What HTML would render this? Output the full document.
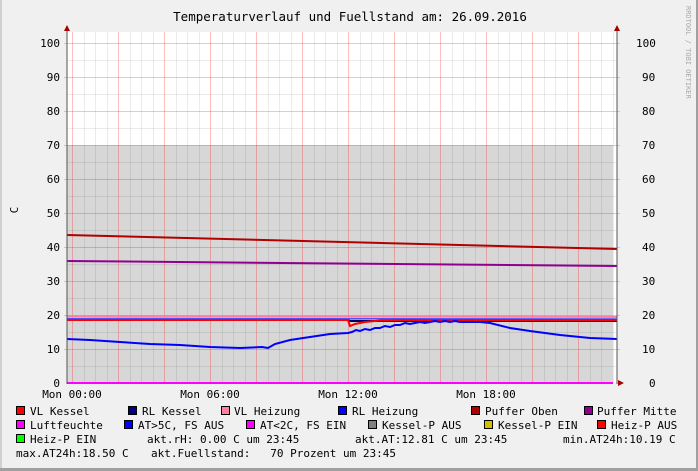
<!DOCTYPE html>
<html><head><meta charset="utf-8"><style>
body{margin:0;background:#f0f0f0}
svg{display:block}
text{font-family:"DejaVu Sans Mono","Liberation Mono",monospace;font-size:11px;fill:#000;white-space:pre}
</style></head><body>
<svg width="698" height="471" viewBox="0 0 698 471" xmlns="http://www.w3.org/2000/svg">
<rect x="0" y="0" width="698" height="471" fill="#f0f0f0"/>
<rect x="0" y="0" width="2" height="471" fill="#d0d0d0"/>
<rect x="0" y="468" width="698" height="3" fill="#a0a0a0"/>
<rect x="696" y="0" width="2" height="471" fill="#a0a0a0"/>
<text x="350" y="21" text-anchor="middle" style="font-size:12.5px">Temperaturverlauf und Fuellstand am: 26.09.2016</text>
<text transform="translate(686,6) rotate(90)" style="font-size:7px;fill:#aaa">RRDTOOL / TOBI OETIKER</text>
<text transform="translate(18,210) rotate(-90)" text-anchor="middle">C</text>
<rect x="67" y="32" width="550" height="351" fill="#fff"/>
<rect x="67" y="145" width="546" height="238" fill="#d7d7d7"/>
<g id="grid"></g>
<polyline fill="none" stroke="#b00000" stroke-width="2" points="67,235 617,249"/>
<polyline fill="none" stroke="#900090" stroke-width="2" points="67,261 617,266"/>
<polyline fill="none" stroke="#ff80a0" stroke-width="2" points="67,316 617,317"/>
<polyline fill="none" stroke="#5050ff" stroke-width="1.5" points="67,318.5 617,319"/>
<polyline fill="none" stroke="#000060" stroke-width="2" points="67,320 348,320 350,321 617,321"/>
<polyline fill="none" stroke="#ff0000" stroke-width="2" points="67,320 348,320 350,326 355,324 365,322 380,320.5 400,320 617,320"/>
<polyline fill="none" stroke="#0000ff" stroke-width="2" points="67,339 90,340 120,342 150,344 180,345 210,347 240,348 262,347 268,348 275,344 290,340 310,337 330,334 348,333 352,332 356,330 360,331 365,329 370,330 375,328 380,328 385,326 390,327 395,325 400,325 405,323 410,324 415,323 420,322 425,323 430,322 435,321 440,322 445,321 450,322 455,321 460,322 470,322 480,322 490,323 510,328 530,331 560,335 590,338 617,339"/>
<line x1="67" y1="383" x2="613" y2="383" stroke="#ff00ff" stroke-width="2"/>
<line x1="67" y1="28" x2="67" y2="384" stroke="#555"/>
<line x1="617" y1="28" x2="617" y2="384" stroke="#555"/>
<polygon points="64,31 70,31 67,25" fill="#a00000"/>
<polygon points="614,31 620,31 617,25" fill="#a00000"/>
<polygon points="618,380 618,386 624,383" fill="#a00000"/>
<g text-anchor="end" id="yl"></g>
<g id="yr"></g>
<g text-anchor="middle">
<text x="72" y="398">Mon 00:00</text>
<text x="210" y="398">Mon 06:00</text>
<text x="348" y="398">Mon 12:00</text>
<text x="486" y="398">Mon 18:00</text>
</g>
<g stroke="#000" stroke-width="1">
<rect x="16.5" y="406.5" width="8" height="8" fill="#ff0000"/>
<rect x="128.5" y="406.5" width="8" height="8" fill="#000080"/>
<rect x="221.5" y="406.5" width="8" height="8" fill="#ff80a0"/>
<rect x="338.5" y="406.5" width="8" height="8" fill="#0000ff"/>
<rect x="471.5" y="406.5" width="8" height="8" fill="#b00000"/>
<rect x="584.5" y="406.5" width="8" height="8" fill="#900090"/>
<rect x="16.5" y="420.5" width="8" height="8" fill="#ff00ff"/>
<rect x="124.5" y="420.5" width="8" height="8" fill="#0000ff"/>
<rect x="246.5" y="420.5" width="8" height="8" fill="#ff00ff"/>
<rect x="368.5" y="420.5" width="8" height="8" fill="#808080"/>
<rect x="484.5" y="420.5" width="8" height="8" fill="#d0c000"/>
<rect x="597.5" y="420.5" width="8" height="8" fill="#ff0000"/>
<rect x="16.5" y="434.5" width="8" height="8" fill="#00ff00"/>
</g>
<g>
<text x="30" y="415">VL Kessel</text>
<text x="142" y="415">RL Kessel</text>
<text x="234" y="415">VL Heizung</text>
<text x="352" y="415">RL Heizung</text>
<text x="485" y="415">Puffer Oben</text>
<text x="597" y="415">Puffer Mitte</text>
<text x="30" y="429">Luftfeuchte</text>
<text x="138" y="429">AT&gt;5C, FS AUS</text>
<text x="260" y="429">AT&lt;2C, FS EIN</text>
<text x="382" y="429">Kessel-P AUS</text>
<text x="498" y="429">Kessel-P EIN</text>
<text x="611" y="429">Heiz-P AUS</text>
<text x="30" y="443">Heiz-P EIN</text>
<text x="147" y="443">akt.rH: 0.00 C um 23:45</text>
<text x="355" y="443">akt.AT:12.81 C um 23:45</text>
<text x="563" y="443">min.AT24h:10.19 C</text>
<text x="16" y="457">max.AT24h:18.50 C</text>
<text x="151" y="457">akt.Fuellstand:&#160;&#160;&#160;70 Prozent um 23:45</text>
</g>
</svg>
<script>
(function(){
var ns="http://www.w3.org/2000/svg",g=document.getElementById("grid");
function ln(x1,y1,x2,y2,c,o){var l=document.createElementNS(ns,"line");l.setAttribute("x1",x1);l.setAttribute("y1",y1);l.setAttribute("x2",x2);l.setAttribute("y2",y2);l.setAttribute("stroke",c);l.setAttribute("stroke-opacity",o);g.appendChild(l);}
for(var i=-1;i<48;i++){var x=Math.round(72+i*11.5)+0.5;if(x<68||x>616)continue;
 if(i%4==0)ln(x,32,x,383,"#ff0000",0.25);else ln(x,32,x,383,"#000",0.08);}
for(var v=5;v<=100;v+=5){var y=Math.round(383-v*3.4)+0.5;
 if(v%10==0)ln(64,y,620,y,"#ff0000",0.25);else ln(67,y,617,y,"#000",0.08);}
var yl=document.getElementById("yl"),yr=document.getElementById("yr");
for(var v=0;v<=100;v+=10){var y=383-v*3.4+4;
 var t=document.createElementNS(ns,"text");t.setAttribute("x",60);t.setAttribute("y",y);t.textContent=v;yl.appendChild(t);
 var t2=document.createElementNS(ns,"text");t2.setAttribute("x",v==100?636:(v==0?649:642));t2.setAttribute("y",y);t2.textContent=v;yr.appendChild(t2);}
})();
</script>
</body></html>
